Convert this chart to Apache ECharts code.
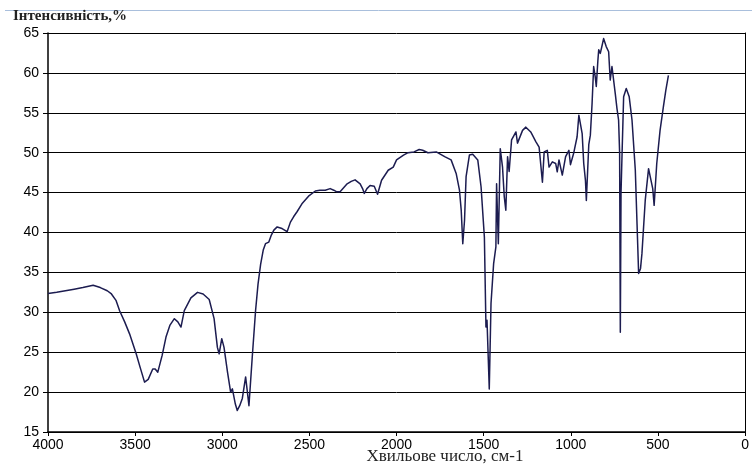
<!DOCTYPE html>
<html>
<head>
<meta charset="utf-8">
<script src="https://cdn.jsdelivr.net/npm/echarts@6/dist/echarts.min.js"></script>
<style>html,body{margin:0;padding:0;background:#fff}#c{width:752px;height:464px}</style>
</head>
<body>
<div id="c"></div>
<script>
const wavenumbers = [4000,3950,3900,3850,3800,3741,3700,3660,3636,3610,3589,3560,3532,3494,3470,3446,3425,3399,3385,3370,3345,3323,3300,3275,3255,3237,3218,3180,3142,3110,3075,3047,3028,3018,3003,2990,2970,2952,2942,2925,2914,2900,2885,2866,2857,2847,2828,2809,2795,2780,2765,2752,2733,2720,2704,2685,2657,2628,2609,2590,2571,2543,2505,2466,2440,2409,2381,2360,2343,2324,2286,2260,2238,2209,2195,2185,2170,2152,2128,2109,2086,2048,2019,2000,1960,1934,1900,1870,1850,1820,1772,1724,1687,1658,1639,1629,1620,1610,1601,1582,1563,1534,1515,1496,1487,1481,1468,1458,1443,1430,1426,1416,1405,1392,1382,1373,1363,1354,1340,1315,1306,1277,1258,1230,1201,1182,1163,1153,1135,1125,1106,1087,1078,1068,1049,1030,1011,1002,983,964,954,935,926,916,911,897,888,878,869,860,854,845,840,831,820,812,797,783,774,764,745,735,726,720,716,712,706,697,682,665,649,630,620,611,600,592,573,554,545,530,522,507,488,469,455,440];
const intensities = [32.35,32.5,32.7,32.9,33.1,33.4,33.1,32.7,32.3,31.5,30.2,28.8,27.3,24.8,23.0,21.25,21.6,22.9,22.9,22.5,24.6,26.9,28.4,29.2,28.8,28.15,30.2,31.8,32.5,32.3,31.6,29.2,25.6,24.8,26.7,25.6,22.5,20.0,20.4,18.5,17.7,18.3,19.2,21.9,21.9,18.3,24.4,30.2,33.5,36.0,37.8,38.6,38.8,39.6,40.3,40.7,40.5,40.1,41.3,42.0,42.6,43.6,44.55,45.2,45.3,45.3,45.5,45.3,45.1,45.1,46.05,46.4,46.6,46.1,45.5,44.9,45.5,45.9,45.8,44.8,46.55,47.8,48.2,49.1,49.7,50.0,50.1,50.4,50.3,50.0,50.1,49.5,49.1,47.4,45.3,42.8,38.6,41.5,47.0,49.7,49.8,49.1,45.7,39.4,28.15,29.0,20.4,31.1,36.1,38.2,46.1,38.6,50.5,48.2,44.5,42.8,49.5,47.65,51.6,52.6,51.2,52.8,53.2,52.6,51.4,50.7,46.3,50.1,50.3,48.2,48.85,48.65,47.6,49.1,47.2,49.5,50.3,48.5,50.0,52.0,54.7,52.4,48.65,46.5,44.0,51.0,52.2,56.2,60.8,59.5,58.3,61.5,62.9,62.45,63.5,64.3,63.3,62.65,59.1,60.8,57.4,55.5,54.1,50.0,27.5,45.0,49.9,57.0,58.05,57.0,54.1,47.8,41.0,34.85,35.5,37.35,44.05,48.0,47.8,45.5,43.4,48.65,52.8,55.75,57.8,59.7];
const xTitle = 'Хвильове число, см-1';
const yTitle = 'Інтенсивність,%';

const data = wavenumbers.map((w, i) => [w, intensities[i]]);
const chart = echarts.init(document.getElementById('c'), null, {renderer: 'canvas'});
chart.setOption({
  animation: false,
  backgroundColor: '#fff',
  grid: {left: 48, right: 3, top: 33, bottom: 32, containLabel: false},
  xAxis: {
    type: 'value', inverse: true, min: 0, max: 4000, interval: 500,
    axisLine: {show: true, onZero: false, lineStyle: {color: '#000', width: 1.5}},
    axisTick: {show: true, length: 4, lineStyle: {color: '#000'}},
    axisLabel: {color: '#000', fontFamily: 'Liberation Sans, Arial', fontSize: 14, margin: 6, formatter: v => String(v)},
    splitLine: {show: false}
  },
  yAxis: [{
    type: 'value', min: 15, max: 65, interval: 5,
    axisLine: {show: true, onZero: false, lineStyle: {color: '#000', width: 1.5}},
    axisTick: {show: true, length: 5, lineStyle: {color: '#000'}},
    axisLabel: {color: '#000', fontFamily: 'Liberation Sans, Arial', fontSize: 14, margin: 9},
    splitLine: {show: true, lineStyle: {color: '#000', width: 1}}
  }, {
    type: 'value', min: 15, max: 65, interval: 5, position: 'right',
    axisLine: {show: true, onZero: false, lineStyle: {color: '#000', width: 1}},
    axisTick: {show: false}, axisLabel: {show: false}, splitLine: {show: false}
  }],
  graphic: [
    {type: 'line', shape: {x1: 5, y1: 10.5, x2: 752, y2: 10.5}, style: {stroke: '#a9bfdc', lineWidth: 1}},
    {type: 'text', left: 13, top: 9, style: {text: yTitle, font: 'bold 15px "Liberation Serif", serif', fill: '#222'}},
    {type: 'text', x: 445, y: 457, style: {text: xTitle, font: '17px "Liberation Serif", serif', fill: '#222', align: 'center', verticalAlign: 'middle'}}
  ],
  series: [{
    type: 'line', data: data, showSymbol: false, smooth: false,
    lineStyle: {color: '#1c1c50', width: 1.5, join: 'round'}
  }]
});
</script>
</body>
</html>
